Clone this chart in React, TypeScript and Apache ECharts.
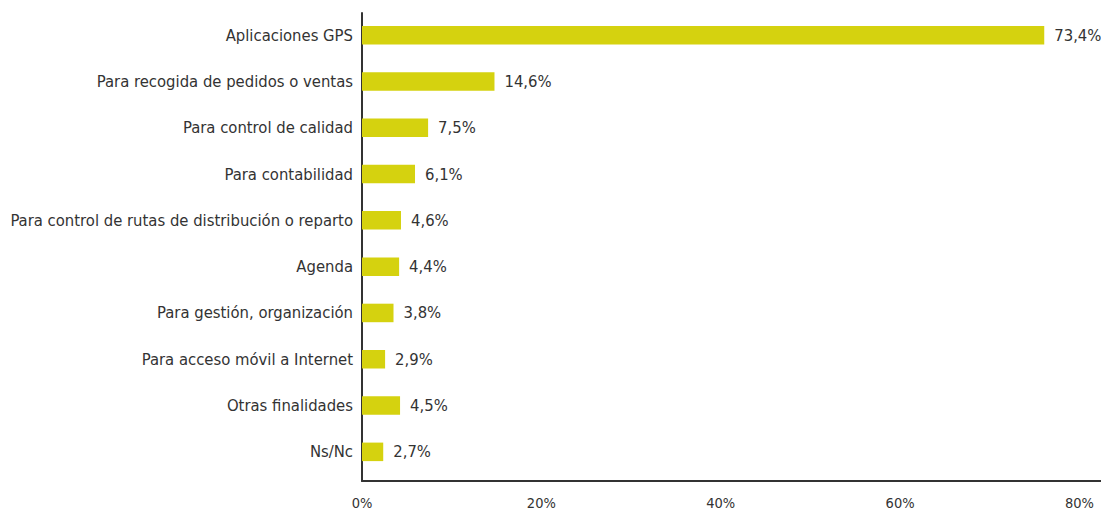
import React, { useEffect, useRef } from "react";
import * as echarts from "echarts";

const categories = [
  "Aplicaciones GPS",
  "Para recogida de pedidos o ventas",
  "Para control de calidad",
  "Para contabilidad",
  "Para control de rutas de distribución o reparto",
  "Agenda",
  "Para gestión, organización",
  "Para acceso móvil a Internet",
  "Otras finalidades",
  "Ns/Nc",
];
const values = [73.4, 14.6, 7.5, 6.1, 4.6, 4.4, 3.8, 2.9, 4.5, 2.7];
const tickValues = [0, 20, 40, 60, 80];

const FONT = "'DejaVu Sans Condensed', 'Liberation Sans', sans-serif";
const TEXT = "#333333";
const BAR = "#d5d20f";

export default function App() {
  const ref = useRef<HTMLDivElement>(null);
  useEffect(() => {
    if (!ref.current) return;
    const chart = echarts.init(ref.current, null, { renderer: "svg" });
    chart.setOption({
      animation: false,
      backgroundColor: "#ffffff",
      textStyle: { fontFamily: FONT },
      grid: [
        { left: 362, right: 0, top: 12, bottom: 35, containLabel: false, outerBoundsMode: "none" },
        { left: 362, right: 0, top: 13, bottom: 29, containLabel: false, outerBoundsMode: "none" },
      ],
      xAxis: [
        {
          gridIndex: 0,
          type: "value",
          min: 0.43,
          max: 79.47,
          axisLine: { show: false },
          axisTick: { show: false },
          axisLabel: { show: false },
          splitLine: { show: false },
        },
        {
          gridIndex: 1,
          type: "value",
          min: 0,
          max: 82.4,
          interval: 20,
          axisLine: { show: true, lineStyle: { color: TEXT, width: 2 } },
          axisTick: { show: false },
          splitLine: { show: false },
          axisLabel: {
            show: true,
            margin: 14,
            fontSize: 14.5,
            color: TEXT,
            fontFamily: FONT,
            showMaxLabel: false,
            formatter: (v: number) => (tickValues.includes(Math.round(v * 100) / 100) ? v + "%" : ""),
          },
        },
      ],
      yAxis: [
        {
          gridIndex: 0,
          type: "category",
          data: categories,
          inverse: true,
          axisLine: { show: false },
          axisTick: { show: false },
          axisLabel: { margin: 9, fontSize: 16.5, color: TEXT, fontFamily: FONT },
        },
        {
          gridIndex: 1,
          type: "value",
          min: 0,
          max: 1,
          axisLine: { show: true, onZero: false, lineStyle: { color: TEXT, width: 2 } },
          axisTick: { show: false },
          axisLabel: { show: false },
          splitLine: { show: false },
        },
      ],
      series: [
        {
          type: "bar",
          xAxisIndex: 0,
          yAxisIndex: 0,
          data: values,
          barWidth: "40%",
          itemStyle: { color: BAR },
          clip: true,
          label: {
            show: true,
            position: "right",
            distance: 10,
            fontSize: 16.5,
            color: TEXT,
            fontFamily: FONT,
            formatter: (p: any) => p.value.toFixed(1).replace(".", ",") + "%",
          },
        },
      ],
    });
    return () => chart.dispose();
  }, []);
  return (
    <div
      ref={ref}
      style={{ position: "absolute", left: 0, top: 0, width: 1101, height: 510 }}
    />
  );
}
